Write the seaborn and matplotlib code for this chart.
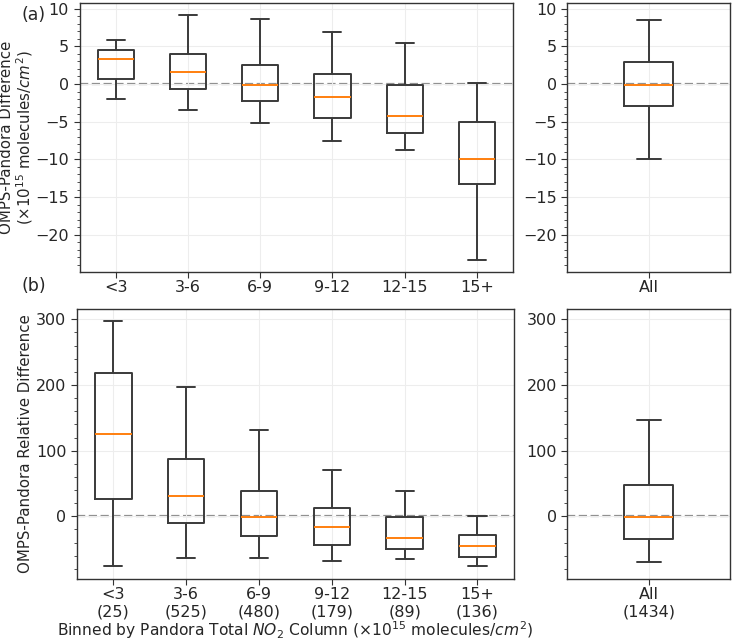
import numpy as np
import pandas as pd
import matplotlib
matplotlib.use('Agg')
import matplotlib.pyplot as plt
from matplotlib.ticker import AutoMinorLocator
import seaborn as sns

# bins of Pandora total NO2 column and number of points per bin
bins = ['<3', '3-6', '6-9', '9-12', '12-15', '15+']
counts = [25, 525, 480, 179, 89, 136]
total_count = 1434

# (a) absolute difference, five-number summaries
abs_low = [-2.0, -3.4, -5.2, -7.5, -8.8, -23.4]
abs_q1 = [0.65, -0.6, -2.2, -4.45, -6.45, -13.2]
abs_med = [3.3, 1.6, -0.1, -1.75, -4.2, -9.9]
abs_q3 = [4.55, 4.05, 2.55, 1.3, -0.15, -5.0]
abs_high = [5.85, 9.2, 8.65, 6.85, 5.45, 0.15]
all_abs = [-10.0, -2.9, -0.1, 2.9, 8.45]

# (b) relative difference (%)
rel_low = [-76, -63, -64, -68.5, -65, -76]
rel_q1 = [27, -11, -30.5, -43.5, -50, -61.5]
rel_med = [126, 31.5, -1.5, -16.5, -33.5, -45.5]
rel_q3 = [218, 88, 38.5, 12, -1, -28]
rel_high = [298, 197, 131, 70, 38.5, 0.5]
all_rel = [-69, -34.5, -1.5, 48, 146]


def long_form(low, q1, med, q3, high, labels):
    rows = []
    for i, lab in enumerate(labels):
        for v in (low[i], q1[i], med[i], q3[i], high[i]):
            rows.append({'bin': lab, 'value': v})
    return pd.DataFrame(rows)


df_abs = long_form(abs_low, abs_q1, abs_med, abs_q3, abs_high, bins)
df_rel = long_form(rel_low, rel_q1, rel_med, rel_q3, rel_high, bins)
df_all_abs = pd.DataFrame({'bin': 'All', 'value': all_abs})
df_all_rel = pd.DataFrame({'bin': 'All', 'value': all_rel})

sns.set_style('ticks', {'axes.edgecolor': '#333333', 'grid.color': '#ebebeb'})
plt.rcParams['font.family'] = ['DejaVu Sans']
plt.rcParams['font.size'] = 11

fig = plt.figure(figsize=(7.33, 6.43), dpi=100)
ax1 = fig.add_axes([0.1085, 0.5775, 0.5915, 0.4178])
ax2 = fig.add_axes([0.7742, 0.5775, 0.2217, 0.4178])
ax3 = fig.add_axes([0.105, 0.1003, 0.596, 0.4199])
ax4 = fig.add_axes([0.7742, 0.1003, 0.2217, 0.4199])

box_kw = dict(width=0.5, fill=False, color='#3a3a3a', linewidth=1.4,
              whis=(0, 100), showfliers=False,
              medianprops={'color': '#ff7f0e', 'linewidth': 1.4})

sns.boxplot(data=df_abs, x='bin', y='value', order=bins, ax=ax1, **box_kw)
sns.boxplot(data=df_all_abs, x='bin', y='value', ax=ax2, **box_kw)
sns.boxplot(data=df_rel, x='bin', y='value', order=bins, ax=ax3, **box_kw)
sns.boxplot(data=df_all_rel, x='bin', y='value', ax=ax4, **box_kw)

for ax in (ax1, ax2):
    ax.set_ylim(-24.9, 10.75)
    ax.set_yticks([10, 5, 0, -5, -10, -15, -20])
for ax in (ax3, ax4):
    ax.set_ylim(-94.8, 316.5)
    ax.set_yticks([300, 200, 100, 0])
for ax in (ax2, ax4):
    ax.set_xlim(-0.83, 0.83)

for ax in (ax1, ax2, ax3, ax4):
    ax.axhline(0, color='#8c8c8c', ls='--', lw=1.6, zorder=0.5)
    ax.grid(True, color='#ededed', lw=0.8)
    ax.set_axisbelow(True)
    ax.yaxis.set_minor_locator(AutoMinorLocator(5))
    ax.tick_params(axis='both', which='major', labelsize=11.5, length=4, color='#333333')
    ax.tick_params(axis='x', which='major', pad=2)
    ax.tick_params(axis='y', which='minor', length=2, color='#333333')
    ax.set_xlabel('')
    ax.set_ylabel('')
    for s in ax.spines.values():
        s.set_linewidth(1.0)

ax1.set_ylabel('OMPS-Pandora Difference\n($\\times10^{15}$ molecules/$cm^2$)',
               fontsize=10.8, linespacing=1.05)
ax1.yaxis.set_label_coords(-0.102, 0.5)
ax3.set_ylabel('OMPS-Pandora Relative Difference', fontsize=10.8)
ax3.yaxis.set_label_coords(-0.1, 0.5)

ax3.set_xticks(range(len(bins)))
ax3.set_xticklabels([f'{b}\n({n})' for b, n in zip(bins, counts)])
ax4.set_xticks([0])
ax4.set_xticklabels([f'All\n({total_count})'])
ax3.set_xlabel('Binned by Pandora Total $NO_2$ Column ($\\times10^{15}$ molecules/$cm^2$)',
               fontsize=11.2, labelpad=0)

fig.text(0.030, 0.977, '(a)', fontsize=12.5, va='center')
fig.text(0.030, 0.555, '(b)', fontsize=12.5, va='center')

fig.savefig('out.png', dpi=100)
